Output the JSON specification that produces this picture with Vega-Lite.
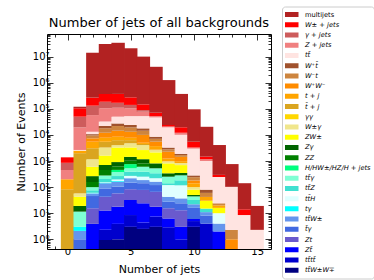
{
"$schema":"https://vega.github.io/schema/vega-lite/v6.json",
"width":224,"height":215,
"autosize":{"type":"none"},
"padding":{"left":47,"top":34,"right":103,"bottom":31},
"background":"white",
"title":{"text":"Number of jets of all backgrounds","font":"DejaVu Sans","fontSize":13,"fontWeight":"normal","color":"black","anchor":"middle","offset":5,"dy":29},
"config":{"view":{"stroke":"black","strokeWidth":1},"axis":{"labelFont":"DejaVu Sans","titleFont":"DejaVu Sans","labelColor":"black","titleColor":"black","tickColor":"black","titleFontWeight":"normal","grid":false,"domain":false,"tickWidth":0.8}},
"datasets":{"h":[
{"n":0,"c":"q-tbj","v":83},{"n":0,"c":"r-tj","v":117},{"n":0,"c":"w-Zj","v":252},{"n":0,"c":"x-Aj","v":400},{"n":0,"c":"y-Wj","v":530},
{"n":1,"c":"e-tbA","v":1},{"n":1,"c":"f-ttW","v":1.1},{"n":1,"c":"g-tA","v":0.9},{"n":1,"c":"j-ttA","v":8.5},{"n":1,"c":"m-ZA","v":7.5},{"n":1,"c":"n-ZW","v":23.7},{"n":1,"c":"o-WA","v":14.8},{"n":1,"c":"q-tbj","v":1940},{"n":1,"c":"r-tj","v":500},{"n":1,"c":"v-tt","v":150},{"n":1,"c":"w-Zj","v":16800},{"n":1,"c":"x-Aj","v":30600},{"n":1,"c":"y-Wj","v":54600},{"n":1,"c":"z-QCD","v":15500},
{"n":2,"c":"c-Ztb","v":3.9},{"n":2,"c":"d-Zt","v":11.6},{"n":2,"c":"e-tbA","v":30},{"n":2,"c":"f-ttW","v":11.5},{"n":2,"c":"g-tA","v":1.5},{"n":2,"c":"h-ttH","v":2},{"n":2,"c":"i-ttZ","v":15},{"n":2,"c":"j-ttA","v":24},{"n":2,"c":"l-ZZ","v":57},{"n":2,"c":"m-ZA","v":107},{"n":2,"c":"n-ZW","v":334},{"n":2,"c":"o-WA","v":572},{"n":2,"c":"q-tbj","v":1915},{"n":2,"c":"r-tj","v":2410},{"n":2,"c":"s-WW","v":1900},{"n":2,"c":"t-Wt","v":2150},{"n":2,"c":"u-Wtb","v":1150},{"n":2,"c":"v-tt","v":2500},{"n":2,"c":"w-Zj","v":44300},{"n":2,"c":"x-Aj","v":74500},{"n":2,"c":"y-Wj","v":137000},{"n":2,"c":"z-QCD","v":13800000},
{"n":3,"c":"a-ttWW","v":0.93},{"n":3,"c":"b-tttt","v":1.37},{"n":3,"c":"c-Ztb","v":10.3},{"n":3,"c":"d-Zt","v":30},{"n":3,"c":"e-tbA","v":46},{"n":3,"c":"f-ttW","v":52},{"n":3,"c":"g-tA","v":7},{"n":3,"c":"h-ttH","v":7},{"n":3,"c":"i-ttZ","v":50},{"n":3,"c":"j-ttA","v":76},{"n":3,"c":"l-ZZ","v":169},{"n":3,"c":"m-ZA","v":251},{"n":3,"c":"n-ZW","v":912},{"n":3,"c":"o-WA","v":1690},{"n":3,"c":"q-tbj","v":2190},{"n":3,"c":"r-tj","v":2260},{"n":3,"c":"s-WW","v":4240},{"n":3,"c":"t-Wt","v":5800},{"n":3,"c":"u-Wtb","v":4100},{"n":3,"c":"v-tt","v":10500},{"n":3,"c":"w-Zj","v":72600},{"n":3,"c":"x-Aj","v":81000},{"n":3,"c":"y-Wj","v":186000},{"n":3,"c":"z-QCD","v":29800000},
{"n":4,"c":"a-ttWW","v":1},{"n":4,"c":"b-tttt","v":2.9},{"n":4,"c":"c-Ztb","v":13.9},{"n":4,"c":"d-Zt","v":39.7},{"n":4,"c":"e-tbA","v":47},{"n":4,"c":"f-ttW","v":57},{"n":4,"c":"g-tA","v":12},{"n":4,"c":"h-ttH","v":23},{"n":4,"c":"i-ttZ","v":69},{"n":4,"c":"j-ttA","v":112},{"n":4,"c":"k-H","v":79},{"n":4,"c":"l-ZZ","v":167},{"n":4,"c":"m-ZA","v":287},{"n":4,"c":"n-ZW","v":2380},{"n":4,"c":"o-WA","v":760},{"n":4,"c":"q-tbj","v":2240},{"n":4,"c":"r-tj","v":2200},{"n":4,"c":"s-WW","v":5940},{"n":4,"c":"t-Wt","v":7450},{"n":4,"c":"u-Wtb","v":5600},{"n":4,"c":"v-tt","v":22600},{"n":4,"c":"w-Zj","v":59900},{"n":4,"c":"x-Aj","v":60000},{"n":4,"c":"y-Wj","v":202000},{"n":4,"c":"z-QCD","v":33500000},
{"n":5,"c":"a-ttWW","v":3},{"n":5,"c":"b-tttt","v":5.5},{"n":5,"c":"c-Ztb","v":23.5},{"n":5,"c":"d-Zt","v":51},{"n":5,"c":"e-tbA","v":65},{"n":5,"c":"f-ttW","v":71},{"n":5,"c":"h-ttH","v":50},{"n":5,"c":"i-ttZ","v":120},{"n":5,"c":"j-ttA","v":136},{"n":5,"c":"k-H","v":234},{"n":5,"c":"l-ZZ","v":264},{"n":5,"c":"m-ZA","v":422},{"n":5,"c":"n-ZW","v":1865},{"n":5,"c":"o-WA","v":1480},{"n":5,"c":"q-tbj","v":1520},{"n":5,"c":"r-tj","v":1450},{"n":5,"c":"s-WW","v":5400},{"n":5,"c":"t-Wt","v":6300},{"n":5,"c":"u-Wtb","v":4500},{"n":5,"c":"v-tt","v":28500},{"n":5,"c":"w-Zj","v":52500},{"n":5,"c":"x-Aj","v":36000},{"n":5,"c":"y-Wj","v":134000},{"n":5,"c":"z-QCD","v":20600000},
{"n":6,"c":"a-ttWW","v":2.5},{"n":6,"c":"b-tttt","v":1.9},{"n":6,"c":"c-Ztb","v":19.6},{"n":6,"c":"d-Zt","v":54},{"n":6,"c":"e-tbA","v":63},{"n":6,"c":"f-ttW","v":45},{"n":6,"c":"h-ttH","v":65},{"n":6,"c":"i-ttZ","v":138},{"n":6,"c":"j-ttA","v":214},{"n":6,"c":"l-ZZ","v":210},{"n":6,"c":"m-ZA","v":362},{"n":6,"c":"n-ZW","v":1455},{"n":6,"c":"o-WA","v":1440},{"n":6,"c":"q-tbj","v":430},{"n":6,"c":"r-tj","v":510},{"n":6,"c":"s-WW","v":4990},{"n":6,"c":"t-Wt","v":4450},{"n":6,"c":"u-Wtb","v":3350},{"n":6,"c":"v-tt","v":34700},{"n":6,"c":"w-Zj","v":25100},{"n":6,"c":"x-Aj","v":11500},{"n":6,"c":"y-Wj","v":59000},{"n":6,"c":"z-QCD","v":9850000},
{"n":7,"c":"a-ttWW","v":3},{"n":7,"c":"b-tttt","v":4.4},{"n":7,"c":"c-Ztb","v":10.4},{"n":7,"c":"d-Zt","v":48},{"n":7,"c":"e-tbA","v":54},{"n":7,"c":"f-ttW","v":42},{"n":7,"c":"h-ttH","v":57},{"n":7,"c":"i-ttZ","v":120},{"n":7,"c":"j-ttA","v":186},{"n":7,"c":"m-ZA","v":288},{"n":7,"c":"n-ZW","v":1330},{"n":7,"c":"o-WA","v":490},{"n":7,"c":"q-tbj","v":100},{"n":7,"c":"r-tj","v":990},{"n":7,"c":"s-WW","v":1780},{"n":7,"c":"t-Wt","v":1580},{"n":7,"c":"u-Wtb","v":1430},{"n":7,"c":"v-tt","v":38300},{"n":7,"c":"w-Zj","v":5700},{"n":7,"c":"y-Wj","v":18300},{"n":7,"c":"z-QCD","v":4000000},
{"n":8,"c":"b-tttt","v":2.9},{"n":8,"c":"c-Ztb","v":3.4},{"n":8,"c":"d-Zt","v":9.2},{"n":8,"c":"e-tbA","v":12},{"n":8,"c":"f-ttW","v":15},{"n":8,"c":"h-ttH","v":77},{"n":8,"c":"i-ttZ","v":21},{"n":8,"c":"j-ttA","v":110},{"n":8,"c":"m-ZA","v":88},{"n":8,"c":"n-ZW","v":474},{"n":8,"c":"o-WA","v":160},{"n":8,"c":"r-tj","v":260},{"n":8,"c":"s-WW","v":1030},{"n":8,"c":"t-Wt","v":530},{"n":8,"c":"u-Wtb","v":480},{"n":8,"c":"v-tt","v":16200},{"n":8,"c":"w-Zj","v":1000},{"n":8,"c":"x-Aj","v":500},{"n":8,"c":"y-Wj","v":3000},{"n":8,"c":"z-QCD","v":1236000},
{"n":9,"c":"b-tttt","v":1},{"n":9,"c":"c-Ztb","v":2},{"n":9,"c":"d-Zt","v":10},{"n":9,"c":"e-tbA","v":11},{"n":9,"c":"f-ttW","v":13},{"n":9,"c":"h-ttH","v":80},{"n":9,"c":"i-ttZ","v":65},{"n":9,"c":"j-ttA","v":100},{"n":9,"c":"m-ZA","v":65},{"n":9,"c":"n-ZW","v":350},{"n":9,"c":"o-WA","v":140},{"n":9,"c":"r-tj","v":150},{"n":9,"c":"s-WW","v":450},{"n":9,"c":"t-Wt","v":250},{"n":9,"c":"u-Wtb","v":200},{"n":9,"c":"v-tt","v":8200},{"n":9,"c":"w-Zj","v":2000},{"n":9,"c":"y-Wj","v":7500},{"n":9,"c":"z-QCD","v":352000},
{"n":10,"c":"a-ttWW","v":3},{"n":10,"c":"b-tttt","v":2},{"n":10,"c":"c-Ztb","v":1},{"n":10,"c":"e-tbA","v":10},{"n":10,"c":"f-ttW","v":6},{"n":10,"c":"i-ttZ","v":10},{"n":10,"c":"j-ttA","v":12},{"n":10,"c":"m-ZA","v":6},{"n":10,"c":"n-ZW","v":30},{"n":10,"c":"o-WA","v":20},{"n":10,"c":"r-tj","v":40},{"n":10,"c":"s-WW","v":40},{"n":10,"c":"t-Wt","v":60},{"n":10,"c":"u-Wtb","v":40},{"n":10,"c":"v-tt","v":2700},{"n":10,"c":"w-Zj","v":300},{"n":10,"c":"y-Wj","v":2200},{"n":10,"c":"z-QCD","v":90000},
{"n":11,"c":"b-tttt","v":4},{"n":11,"c":"e-tbA","v":4},{"n":11,"c":"f-ttW","v":3},{"n":11,"c":"i-ttZ","v":4},{"n":11,"c":"n-ZW","v":15},{"n":11,"c":"r-tj","v":12},{"n":11,"c":"t-Wt","v":18},{"n":11,"c":"u-Wtb","v":20},{"n":11,"c":"v-tt","v":920},{"n":11,"c":"w-Zj","v":170},{"n":11,"c":"y-Wj","v":300},{"n":11,"c":"z-QCD","v":19000},
{"n":12,"c":"c-Ztb","v":2},{"n":12,"c":"f-ttW","v":2},{"n":12,"c":"h-ttH","v":6},{"n":12,"c":"n-ZW","v":6},{"n":12,"c":"r-tj","v":4},{"n":12,"c":"t-Wt","v":4},{"n":12,"c":"v-tt","v":220},{"n":12,"c":"y-Wj","v":50},{"n":12,"c":"z-QCD","v":3800},
{"n":13,"c":"s-WW","v":1},{"n":13,"c":"t-Wt","v":1.3},{"n":13,"c":"v-tt","v":100},{"n":13,"c":"z-QCD","v":660},
{"n":14,"c":"v-tt","v":8.5},{"n":14,"c":"y-Wj","v":5.6},{"n":14,"c":"z-QCD","v":127},
{"n":15,"c":"v-tt","v":2.3},{"n":15,"c":"z-QCD","v":16.7}
]},
"data":{"name":"h"},
"layer":[
{"mark":{"type":"bar","width":13.4,"strokeWidth":0},
"encoding":{
"x":{"field":"n","type":"quantitative","scale":{"domain":[-1.23,15.7],"nice":false,"zero":false},
"axis":{"orient":"bottom","title":"Number of jets","titleFontSize":11,"titlePadding":4,"labelFontSize":10,"labelPadding":3,"values":[-1,0,1,2,3,4,5,6,7,8,9,10,11,12,13,14,15],"labelExpr":"datum.value % 5 === 0 ? datum.label : ''","labelOverlap":false,"tickSize":{"condition":{"test":"datum.value % 5 === 0","value":-6},"value":-3}}},
"y":{"field":"v","type":"quantitative","stack":"zero","scale":{"type":"log","domain":[0.425,73500000],"nice":false,"clamp":true},
"axis":{"orient":"left","title":"Number of Events","titleFontSize":11,"titlePadding":6,"labelFontSize":10,"labelPadding":4,"labelOverlap":false,
"values":[0.5,0.6,0.7,0.8,0.9,1,2,3,4,5,6,7,8,9,10,20,30,40,50,60,70,80,90,100,200,300,400,500,600,700,800,900,1000,2000,3000,4000,5000,6000,7000,8000,9000,10000,20000,30000,40000,50000,60000,70000,80000,90000,100000,200000,300000,400000,500000,600000,700000,800000,900000,1000000,2000000,3000000,4000000,5000000,6000000,7000000,8000000,9000000,10000000,20000000,30000000,40000000,50000000,60000000,70000000],
"labelExpr":"indexof([1,10,100,1000,10000,100000,1000000,10000000], datum.value) >= 0 ? '10' + ['⁰','¹','²','³','⁴','⁵','⁶','⁷'][indexof([1,10,100,1000,10000,100000,1000000,10000000], datum.value)] : ''",
"tickSize":{"condition":{"test":"indexof([1,10,100,1000,10000,100000,1000000,10000000], datum.value) >= 0","value":-6},"value":-3}}},
"color":{"field":"c","type":"nominal",
"scale":{"domain":["z-QCD","y-Wj","x-Aj","w-Zj","v-tt","u-Wtb","t-Wt","s-WW","r-tj","q-tbj","p-AA","o-WA","n-ZW","m-ZA","l-ZZ","k-H","j-ttA","i-ttZ","h-ttH","g-tA","f-ttW","e-tbA","d-Zt","c-Ztb","b-tttt","a-ttWW"],
"range":["#b22222","#ff0000","#cd5c5c","#f08080","#ffe4e1","#a0522d","#cd853f","#ff8c00","#ffa500","#daa520","#ffd700","#f0e68c","#ffff00","#006400","#008000","#00ff7f","#7fffd4","#40e0d0","#e0ffff","#00ffff","#6495ed","#4169e1","#6a5acd","#0000ff","#0000cd","#000080"]},
"legend":{"orient":"none","legendX":235,"legendY":-27.5,"title":null,"padding":3,"strokeColor":"#cccccc","fillColor":"white","cornerRadius":3,
"symbolType":"M-1.157,-0.413L1.157,-0.413L1.157,0.413L-1.157,0.413Z","symbolSize":146.7,"symbolStrokeWidth":0,"symbolOpacity":1,
"labelFont":"DejaVu Sans","labelFontSize":6.7,"labelColor":"black","labelOffset":7,"labelLimit":90,"rowPadding":0.23,"clipHeight":10,
"labelExpr":"({'z-QCD':'multijets','y-Wj':'W± + jets','x-Aj':'γ + jets','w-Zj':'Z + jets','v-tt':'tt\u0304','u-Wtb':'W⁺t\u0304','t-Wt':'W⁻t','s-WW':'W⁺W⁻','r-tj':'t + j','q-tbj':'t\u0304 + j','p-AA':'γγ','o-WA':'W±γ','n-ZW':'ZW±','m-ZA':'Zγ','l-ZZ':'ZZ','k-H':'H/HW±/HZ/H + jets','j-ttA':'tt\u0304γ','i-ttZ':'tt\u0304Z','h-ttH':'tt\u0304H','g-tA':'tγ','f-ttW':'tt\u0304W±','e-tbA':'t\u0304γ','d-Zt':'Zt','c-Ztb':'Zt\u0304','b-tttt':'tt\u0304tt\u0304','a-ttWW':'tt\u0304W±W∓'})[datum.label]",
"encode":{"labels":{"update":{"fontStyle":{"signal":"datum.value === 'z-QCD' ? 'normal' : 'italic'"}}}}}},
"order":{"field":"c","sort":"ascending"}
}},
{"mark":{"type":"point","opacity":0},
"encoding":{
"x":{"field":"n","type":"quantitative","scale":{"domain":[-1.23,15.7],"nice":false,"zero":false},
"axis":{"orient":"top","title":null,"labels":false,"minExtent":0,"maxExtent":0,"values":[-1,0,1,2,3,4,5,6,7,8,9,10,11,12,13,14,15],"tickSize":{"condition":{"test":"datum.value % 5 === 0","value":-6},"value":-3}}},
"y":{"field":"v","type":"quantitative","scale":{"type":"log","domain":[0.425,73500000],"nice":false,"clamp":true},
"axis":{"orient":"right","title":null,"labels":false,"minExtent":0,"maxExtent":0,
"values":[0.5,0.6,0.7,0.8,0.9,1,2,3,4,5,6,7,8,9,10,20,30,40,50,60,70,80,90,100,200,300,400,500,600,700,800,900,1000,2000,3000,4000,5000,6000,7000,8000,9000,10000,20000,30000,40000,50000,60000,70000,80000,90000,100000,200000,300000,400000,500000,600000,700000,800000,900000,1000000,2000000,3000000,4000000,5000000,6000000,7000000,8000000,9000000,10000000,20000000,30000000,40000000,50000000,60000000,70000000],
"tickSize":{"condition":{"test":"indexof([1,10,100,1000,10000,100000,1000000,10000000], datum.value) >= 0","value":-6},"value":-3}}}
}}
],
"resolve":{"axis":{"x":"independent","y":"independent"}}
}
